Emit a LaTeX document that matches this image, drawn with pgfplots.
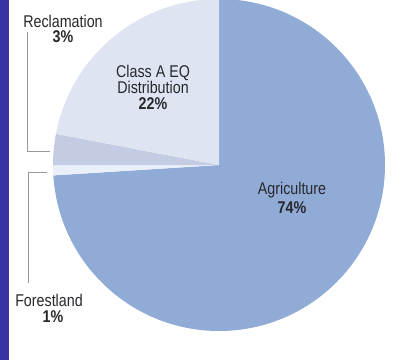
\documentclass[border=0pt]{standalone}
\usepackage{pgfplots}
\pgfplotsset{compat=1.18}
\usepackage{pgfplotstable}
\usepackage{fontspec}
\setmainfont{Liberation Sans}[FakeStretch=0.84]
\definecolor{agri}{RGB}{145,171,215}
\definecolor{classa}{RGB}{222,228,242}
\definecolor{recl}{RGB}{196,204,228}
\definecolor{forest}{RGB}{234,240,249}
\definecolor{frame}{RGB}{56,52,160}
\definecolor{txt}{RGB}{40,40,45}
\pgfplotstableread{
name value
Agriculture 74
Forestland 1
Reclamation 3
ClassA 22
}\piedata
\pgfplotstablegetelem{0}{value}\of\piedata \let\vA\pgfplotsretval
\pgfplotstablegetelem{1}{value}\of\piedata \let\vB\pgfplotsretval
\pgfplotstablegetelem{2}{value}\of\piedata \let\vC\pgfplotsretval
\pgfplotstablegetelem{3}{value}\of\piedata \let\vD\pgfplotsretval
\pgfmathsetmacro\aA{90}
\pgfmathsetmacro\aB{\aA-3.6*\vA}
\pgfmathsetmacro\aC{\aB-3.6*\vB}
\pgfmathsetmacro\aD{\aC-3.6*\vC}
\pgfmathsetmacro\aE{\aD-3.6*\vD}
\newcommand{\lbl}{\fontsize{17}{15.5}\selectfont}
\begin{document}
\begin{tikzpicture}
\begin{axis}[scale only axis, width=402pt, height=360pt,
  xmin=0, xmax=402, ymin=0, ymax=360, hide axis, clip=true]
\fill[white] (axis cs:0,0) rectangle (axis cs:402,360);
\fill[agri] (axis cs:219,195) -- ++(\aA:166pt) arc[start angle=\aA, end angle=\aB, radius=166pt] -- cycle;
\fill[forest] (axis cs:219,195) -- ++(\aB:166pt) arc[start angle=\aB, end angle=\aC, radius=166pt] -- cycle;
\fill[recl] (axis cs:219,195) -- ++(\aC:166pt) arc[start angle=\aC, end angle=\aD, radius=166pt] -- cycle;
\fill[classa] (axis cs:219,195) -- ++(\aD:166pt) arc[start angle=\aD, end angle=\aE, radius=166pt] -- cycle;
\fill[frame] (axis cs:0,0) rectangle (axis cs:9,360);
\draw[gray!80, line width=0.9pt] (axis cs:27,328) -- (axis cs:27,209) -- (axis cs:50,209);
\draw[gray!80, line width=0.9pt] (axis cs:47,188) -- (axis cs:28,188) -- (axis cs:28,77);
\node[txt, inner sep=0pt, font=\lbl] at (axis cs:63,339) {Reclamation};
\node[txt, inner sep=0pt, font=\lbl\bfseries] at (axis cs:63,323) {3\%};
\node[txt, inner sep=0pt, align=center, font=\lbl] at (axis cs:153,273) {Class A EQ\\Distribution\\\bfseries 22\%};
\node[txt, inner sep=0pt, font=\lbl] at (axis cs:292,170) {Agriculture};
\node[txt, inner sep=0pt, font=\lbl\bfseries] at (axis cs:292,152) {74\%};
\node[txt, inner sep=0pt, font=\lbl] at (axis cs:49,60) {Forestland};
\node[txt, inner sep=0pt, font=\lbl\bfseries] at (axis cs:53,43) {1\%};
\end{axis}
\end{tikzpicture}
\end{document}
